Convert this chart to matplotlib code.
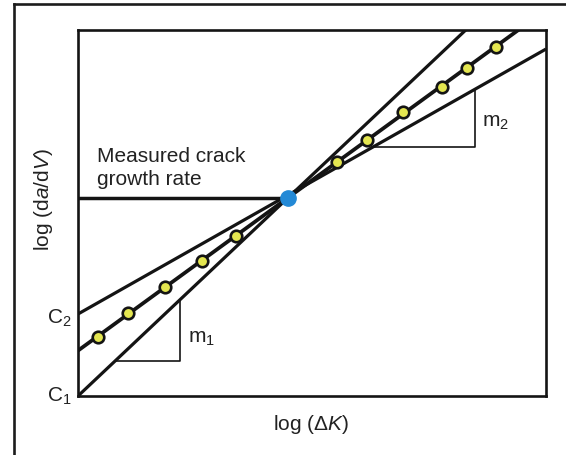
import numpy as np
import matplotlib
matplotlib.use("Agg")
import matplotlib.pyplot as plt
from matplotlib.lines import Line2D

plt.rcParams['font.family'] = ['Liberation Sans', 'DejaVu Sans']
plt.rcParams['mathtext.fontset'] = 'custom'
plt.rcParams['mathtext.rm'] = 'Liberation Sans'
plt.rcParams['mathtext.it'] = 'Liberation Sans:italic'

# measured points (log dK, log da/dV), axes scaled 0..1
log_dk = [0.042, 0.107, 0.186, 0.266, 0.337, 0.553, 0.617, 0.695, 0.778, 0.831, 0.893]
log_rate = [0.160, 0.227, 0.297, 0.368, 0.437, 0.640, 0.700, 0.775, 0.844, 0.896, 0.953]

# measured crack growth rate point
meas_dk = 0.448
meas_rate = 0.540

# fitted lines: intercept at left edge and slope
c1, m1 = 0.0, 1.207
c2, m2 = 0.224, 0.724
c_fit, m_fit = 0.124, 0.931

ink = '#141414'
txt = '#222222'
fs = 15

fig = plt.figure(figsize=(5.66, 4.56), dpi=100)
ax = fig.add_axes([78 / 566, 1 - 397 / 456, 468 / 566, 366 / 456])
ax.set_xlim(0, 1)
ax.set_ylim(0, 1)
ax.set_xticks([])
ax.set_yticks([])
for s in ax.spines.values():
    s.set_linewidth(1.9)
    s.set_color(ink)

xx = np.linspace(0, 1, 50)
ax.plot(xx, c1 + m1 * xx, color=ink, lw=2.3, solid_capstyle='butt')
ax.plot(xx, c2 + m2 * xx, color=ink, lw=2.3, solid_capstyle='butt')
ax.plot(xx, c_fit + m_fit * xx, color=ink, lw=2.7, solid_capstyle='butt')

# horizontal line to measured rate
ax.plot([0, meas_dk], [meas_rate, meas_rate], color=ink, lw=2.5)

# slope triangles
y0 = 0.095
xa = (y0 - c1) / m1
xb = 0.218
ax.plot([xa, xb, xb], [y0, y0, c1 + m1 * xb], color=ink, lw=1.2)
y0 = 0.679
xa = (y0 - c2) / m2
xb = 0.848
ax.plot([xa, xb, xb], [y0, y0, c2 + m2 * xb], color=ink, lw=1.2)

ax.plot(log_dk, log_rate, 'o', ms=8.3, mfc='#e4e650', mec=ink, mew=1.9, zorder=4)
ax.plot([meas_dk], [meas_rate], 'o', ms=11, color='#2389d6', mec='#2389d6', zorder=5)

ax.text(0.041, 0.643, 'Measured crack', fontsize=fs, va='baseline', ha='left', color=txt)
ax.text(0.041, 0.578, 'growth rate', fontsize=fs, va='baseline', ha='left', color=txt)
ax.text(-0.013, 0.199, r'C$_2$', fontsize=fs, ha='right', va='baseline', color=txt)
ax.text(-0.013, -0.013, r'C$_1$', fontsize=fs, ha='right', va='baseline', color=txt,
        clip_on=False)
ax.text(0.235, 0.148, r'm$_1$', fontsize=fs, ha='left', va='baseline', color=txt)
ax.text(0.863, 0.738, r'm$_2$', fontsize=fs, ha='left', va='baseline', color=txt)

ax.set_xlabel(r'log (Δ$K$)', fontsize=fs, color=txt)
ax.xaxis.set_label_coords(0.499, -0.044)
ax.set_ylabel(r'log (d$a$/d$V$)', fontsize=fs, color=txt)
ax.yaxis.set_label_coords(-0.050, 0.538)

# outer frame (left and top only)
fig.add_artist(Line2D([14 / 566, 14 / 566], [0, 1 - 5 / 456], color='#1c1c1c', lw=1.9,
                      transform=fig.transFigure))
fig.add_artist(Line2D([14 / 566, 1], [1 - 5 / 456, 1 - 5 / 456], color='#1c1c1c', lw=1.9,
                      transform=fig.transFigure))

fig.savefig('out.png', dpi=100)
